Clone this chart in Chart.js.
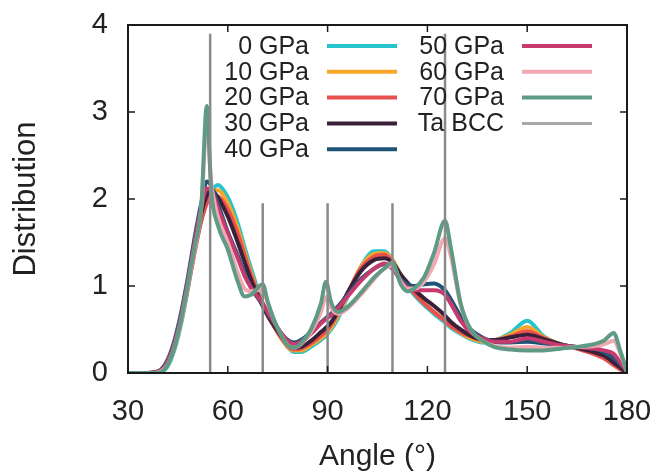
<!DOCTYPE html>
<html>
<head>
<meta charset="utf-8">
<script src="https://cdn.jsdelivr.net/npm/chart.js@4.4.1/dist/chart.umd.min.js"></script>
<style>
  html, body { margin: 0; padding: 0; background: #ffffff; }
  canvas { display: block; }
</style>
</head>
<body>
<canvas id="c" width="663" height="475"></canvas>
<script>
// ---- Data ----
const angles = [30, 36, 38, 40, 42, 44, 46, 48, 50, 52,
  53.7, 55, 57, 60, 63, 65, 67, 70.5, 72, 74,
  76, 78, 80, 82, 85, 88, 89.5, 91, 93, 96,
  100, 104, 107, 109.5, 112, 114, 116, 119, 122, 125.3,
  127, 130, 133, 137, 140, 145, 150, 155, 160, 165,
  170, 173, 176, 178, 180];

const gpa0 = [0, 0, 0, 0.01, 0.08, 0.27, 0.57, 0.97, 1.4, 1.76,
  1.97, 2.08, 2.16, 2.02, 1.72, 1.45, 1.2, 0.8, 0.68, 0.55,
  0.42, 0.3, 0.24, 0.24, 0.3, 0.38, 0.43, 0.5, 0.62, 0.88,
  1.22, 1.4, 1.4, 1.3, 1.12, 1.0, 0.9, 0.78, 0.68, 0.58,
  0.52, 0.45, 0.39, 0.35, 0.37, 0.46, 0.6, 0.42, 0.33, 0.29,
  0.25, 0.2, 0.12, 0.06, 0];
const gpa10 = [0, 0, 0, 0.02, 0.1, 0.3, 0.6, 1.0, 1.42, 1.78,
  1.98, 2.07, 2.1, 1.95, 1.66, 1.4, 1.15, 0.78, 0.66, 0.53,
  0.4, 0.3, 0.26, 0.26, 0.32, 0.4, 0.45, 0.52, 0.65, 0.9,
  1.22, 1.37, 1.38, 1.3, 1.13, 1.02, 0.92, 0.8, 0.7, 0.6,
  0.54, 0.46, 0.4, 0.36, 0.37, 0.44, 0.53, 0.41, 0.33, 0.29,
  0.24, 0.19, 0.11, 0.05, 0];
const gpa20 = [0, 0, 0, 0.02, 0.11, 0.31, 0.6, 0.98, 1.38, 1.74,
  1.95, 2.04, 2.03, 1.88, 1.6, 1.36, 1.12, 0.78, 0.66, 0.53,
  0.41, 0.31, 0.27, 0.28, 0.34, 0.43, 0.48, 0.55, 0.68, 0.92,
  1.2, 1.34, 1.36, 1.28, 1.12, 1.02, 0.92, 0.8, 0.7, 0.6,
  0.54, 0.47, 0.42, 0.38, 0.38, 0.42, 0.48, 0.4, 0.33, 0.28,
  0.22, 0.17, 0.09, 0.04, 0];
const gpa30 = [0, 0, 0, 0.03, 0.13, 0.34, 0.64, 1.03, 1.45, 1.83,
  2.04, 2.1, 2.02, 1.8, 1.5, 1.28, 1.07, 0.77, 0.66, 0.54,
  0.43, 0.33, 0.29, 0.3, 0.37, 0.47, 0.52, 0.58, 0.7, 0.92,
  1.17, 1.3, 1.32, 1.27, 1.13, 1.04, 0.96, 0.86, 0.77, 0.66,
  0.59, 0.5, 0.43, 0.38, 0.38, 0.41, 0.44, 0.39, 0.33, 0.29,
  0.24, 0.2, 0.12, 0.06, 0];
const gpa40 = [0, 0, 0.01, 0.04, 0.16, 0.38, 0.7, 1.1, 1.55, 1.95,
  2.2, 2.15, 1.95, 1.62, 1.35, 1.15, 0.98, 0.78, 0.68, 0.57,
  0.46, 0.38, 0.35, 0.38, 0.47, 0.58, 0.63, 0.68, 0.76, 0.9,
  1.08, 1.2, 1.25, 1.2, 1.08, 1.02, 1.0, 1.02, 1.03, 0.95,
  0.85, 0.65, 0.5, 0.4, 0.36, 0.35, 0.36, 0.34, 0.32, 0.3,
  0.28, 0.24, 0.17, 0.1, 0.02];
const gpa50 = [0, 0, 0.01, 0.03, 0.14, 0.35, 0.66, 1.06, 1.5, 1.9,
  2.12, 2.1, 1.9, 1.6, 1.32, 1.12, 0.98, 0.8, 0.7, 0.58,
  0.46, 0.37, 0.33, 0.36, 0.45, 0.57, 0.62, 0.66, 0.74, 0.88,
  1.06, 1.2, 1.26, 1.2, 1.06, 0.98, 0.95, 0.95, 0.95, 0.9,
  0.8, 0.6, 0.47, 0.39, 0.36, 0.36, 0.4, 0.36, 0.32, 0.3,
  0.28, 0.26, 0.22, 0.12, 0.02];
const gpa60 = [0, 0, 0, 0.02, 0.1, 0.3, 0.6, 1.0, 1.42, 1.88,
  2.87, 2.2, 1.8, 1.5, 1.15, 0.97, 0.94, 0.96, 0.8, 0.6,
  0.44, 0.32, 0.29, 0.33, 0.47, 0.7, 0.87, 0.75, 0.68, 0.74,
  0.9, 1.08, 1.2, 1.23, 1.05, 0.97, 0.97, 1.05, 1.25, 1.55,
  1.35, 0.78, 0.5, 0.36, 0.31, 0.29, 0.3, 0.29, 0.29, 0.3,
  0.31, 0.33, 0.37, 0.22, 0.02];
const gpa70 = [0, 0, 0, 0.01, 0.1, 0.3, 0.62, 1.02, 1.45, 1.9,
  3.07, 2.1, 1.7, 1.42, 1.05, 0.88, 0.9, 1.02, 0.82, 0.6,
  0.44, 0.32, 0.29, 0.34, 0.5, 0.8, 1.05, 0.82, 0.7, 0.76,
  0.92, 1.1, 1.2, 1.27, 1.02, 0.94, 0.97, 1.1, 1.38, 1.75,
  1.45, 0.8, 0.5, 0.36, 0.3, 0.27, 0.26, 0.26, 0.28, 0.3,
  0.33, 0.37, 0.46, 0.25, 0.02];

const bccAngles = [54.7, 70.5, 90, 109.5, 125.3];
const bccHeights = [3.9, 1.95, 1.95, 1.95, 3.9];

const seriesLabels = ['0 GPa', '10 GPa', '20 GPa', '30 GPa', '40 GPa', '50 GPa', '60 GPa', '70 GPa'];
const seriesValues = [gpa0, gpa10, gpa20, gpa30, gpa40, gpa50, gpa60, gpa70];
const seriesColors = ['#27c3cc', '#f8a62a', '#e8504e', '#3a2039', '#1f5478', '#c63a6e', '#f2a8b0', '#5f9a84'];
const bccLabel = 'Ta BCC';
const bccColor = '#8a8a8a';

const xTicks = [30, 60, 90, 120, 150, 180];
const yTicks = [0, 1, 2, 3, 4];

// ---- Build datasets ----
const FONT = '"Liberation Sans", Arial, Helvetica, sans-serif';
const datasets = seriesValues.map((vals, i) => ({
  label: seriesLabels[i],
  data: angles.map((a, j) => ({ x: a, y: vals[j] })),
  borderColor: seriesColors[i],
  backgroundColor: seriesColors[i],
  borderWidth: 4,
  pointRadius: 0,
  cubicInterpolationMode: 'monotone',
  fill: false,
  order: seriesValues.length - i
}));
const bccData = [];
bccAngles.forEach((a, i) => {
  bccData.push({ x: a, y: 0 }, { x: a, y: bccHeights[i] }, { x: a, y: null });
});
datasets.push({
  label: bccLabel,
  data: bccData,
  borderColor: bccColor,
  backgroundColor: bccColor,
  borderWidth: 2.5,
  pointRadius: 0,
  tension: 0,
  spanGaps: false,
  fill: false,
  order: 0
});

// ---- Plugins: frame, inward ticks, legend ----
const framePlugin = {
  id: 'frame',
  afterDatasetsDraw(chart) {
    const { ctx, chartArea: a, scales } = chart;
    ctx.save();
    ctx.strokeStyle = '#1a1a1a';
    ctx.lineWidth = 2;
    ctx.strokeRect(a.left, a.top, a.right - a.left, a.bottom - a.top);
    ctx.lineWidth = 1.5;
    const tl = 7;
    xTicks.forEach(v => {
      const px = scales.x.getPixelForValue(v);
      ctx.beginPath();
      ctx.moveTo(px, a.bottom); ctx.lineTo(px, a.bottom - tl);
      ctx.moveTo(px, a.top); ctx.lineTo(px, a.top + tl);
      ctx.stroke();
    });
    yTicks.forEach(v => {
      const py = scales.y.getPixelForValue(v);
      ctx.beginPath();
      ctx.moveTo(a.left, py); ctx.lineTo(a.left + tl, py);
      ctx.moveTo(a.right, py); ctx.lineTo(a.right - tl, py);
      ctx.stroke();
    });
    ctx.restore();
  }
};

const legendPlugin = {
  id: 'insideLegend',
  afterDraw(chart) {
    const { ctx } = chart;
    const entries = chart.data.datasets.map(d => ({ label: d.label, color: d.borderColor, w: d.label === bccLabel ? 3 : 4 }));
    const rowH = 25.8, y0 = 46;
    const cols = [
      { textRight: 309, lx1: 327, lx2: 397 },
      { textRight: 504, lx1: 522, lx2: 592 }
    ];
    ctx.save();
    ctx.font = '25px ' + FONT;
    ctx.textAlign = 'right';
    ctx.textBaseline = 'middle';
    entries.forEach((e, i) => {
      const col = cols[i < 5 ? 0 : 1];
      const row = i < 5 ? i : i - 5;
      const y = y0 + row * rowH;
      ctx.fillStyle = '#222';
      ctx.fillText(e.label, col.textRight, y + 1);
      ctx.strokeStyle = e.label === bccLabel ? '#a8a8a8' : e.color;
      ctx.lineWidth = e.w;
      ctx.beginPath();
      ctx.moveTo(col.lx1, y); ctx.lineTo(col.lx2, y);
      ctx.stroke();
    });
    ctx.restore();
  }
};

new Chart(document.getElementById('c'), {
  type: 'line',
  data: { datasets },
  options: {
    responsive: false,
    animation: false,
    devicePixelRatio: 1,
    layout: { autoPadding: false, padding: { top: 25, right: 36, left: 0, bottom: 0 } },
    plugins: { legend: { display: false }, tooltip: { enabled: false } },
    scales: {
      x: {
        type: 'linear', min: 30, max: 180,
        afterBuildTicks: s => { s.ticks = xTicks.map(v => ({ value: v })); },
        afterFit: s => { s.height = 102; s.paddingLeft = 0; s.paddingRight = 0; },
        grid: { display: false, drawTicks: false },
        border: { display: false },
        ticks: { color: '#222', font: { family: FONT, size: 29 }, padding: 22, maxRotation: 0 },
        title: { display: true, text: 'Angle (°)', color: '#222', font: { family: FONT, size: 30 }, padding: { top: 0, bottom: 0 } }
      },
      y: {
        type: 'linear', min: 0, max: 4,
        afterBuildTicks: s => { s.ticks = yTicks.map(v => ({ value: v })); },
        afterFit: s => { s.width = 128; s.paddingTop = 0; s.paddingBottom = 0; },
        grid: { display: false, drawTicks: false },
        border: { display: false },
        ticks: { color: '#222', font: { family: FONT, size: 29 }, padding: 20 },
        title: { display: true, text: 'Distribution', color: '#222', font: { family: FONT, size: 31 }, padding: { top: 8, bottom: 0 } }
      }
    }
  },
  plugins: [framePlugin, legendPlugin]
});
</script>
</body>
</html>
